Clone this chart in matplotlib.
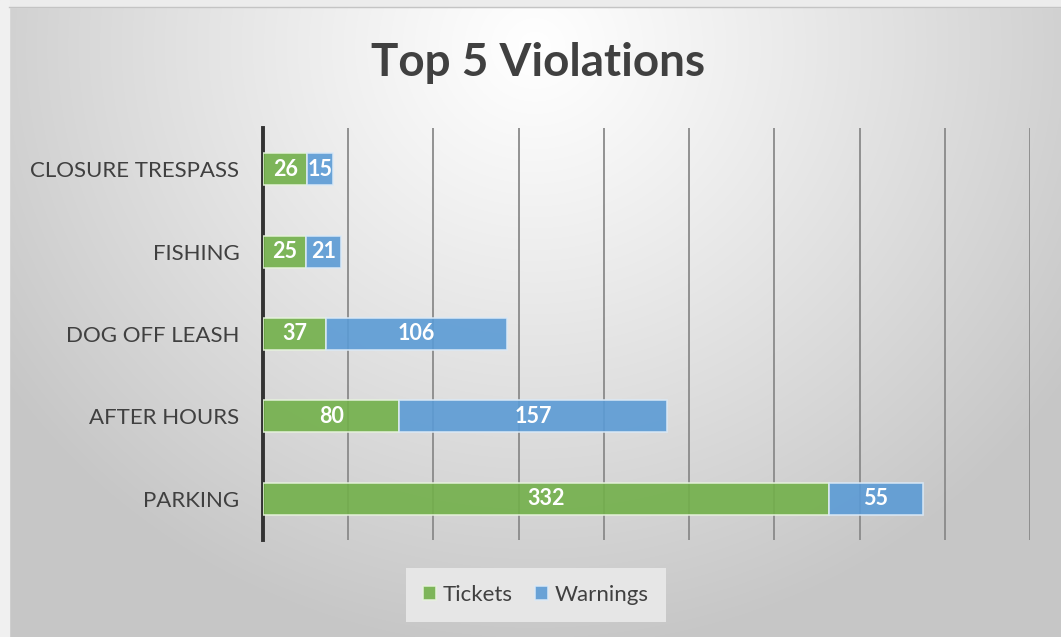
import numpy as np
import matplotlib
matplotlib.use("Agg")
import matplotlib.pyplot as plt
from matplotlib.patches import Rectangle

# data (bottom to top)
categories = ["PARKING", "AFTER HOURS", "DOG OFF LEASH", "FISHING", "CLOSURE TRESPASS"]
tickets = [332, 80, 37, 25, 26]
warnings = [55, 157, 106, 21, 15]

green = "#72b04a"
blue = "#5b9bd5"
txt = "#404040"

plt.rcParams['font.family'] = ['Lato', 'DejaVu Sans']

W, H = 1061, 637
fig = plt.figure(figsize=(W / 100, H / 100), dpi=100)
fig.patch.set_facecolor("#efefef")

# radial gradient panel background
bg = fig.add_axes([0, 0, 1, 1], zorder=-10)
bg.set_xlim(0, W)
bg.set_ylim(H, 0)
bg.axis('off')
yy, xx = np.mgrid[0:H, 0:W]
d = np.sqrt(((xx - 530) / 1.0) ** 2 + ((yy - 40) / 0.95) ** 2)
t = np.clip(d / 640, 0, 1) ** 1.1
val = 1.0 - t * (1.0 - 0.78)
img = np.dstack([val, val, val])
bg.imshow(img, extent=(9, W, H, 7), aspect='auto', zorder=0)
bg.add_patch(Rectangle((0, 0), W, 7, color="#ececec", zorder=1))
bg.add_patch(Rectangle((0, 0), 9, H, color="#f0f0f0", zorder=1))
bg.plot([9, W], [7, 7], color="#c4c4c4", lw=1, zorder=2)

ax = fig.add_axes([263 / W, 1 - 540 / H, (1030 - 263) / W, (540 - 128) / H])
ax.set_facecolor("none")

y = np.arange(len(categories))
h = 0.39
b1 = ax.barh(y, tickets, height=h, color=green, alpha=0.9,
             edgecolor="#e6f2dc", linewidth=1.2, label="Tickets", zorder=3)
b2 = ax.barh(y, warnings, left=tickets, height=h, color=blue, alpha=0.9,
             edgecolor="#dbe9f6", linewidth=1.2, label="Warnings", zorder=3)

for i in range(len(categories)):
    ax.text(tickets[i] / 2, y[i], str(tickets[i]), ha='center', va='center',
            color='white', fontsize=15.5, fontweight='bold', zorder=4)
    ax.text(tickets[i] + warnings[i] / 2, y[i], str(warnings[i]), ha='center',
            va='center', color='white', fontsize=15.5, fontweight='bold', zorder=4)

ax.set_xlim(0, 450)
ax.set_ylim(-0.5, 4.5)
ax.set_xticks(np.arange(50, 451, 50))
ax.set_xticklabels([])
ax.tick_params(axis='x', length=0)
ax.grid(axis='x', color="#8a8a8a", lw=1.3, zorder=0)
ax.set_yticks(y)
ax.set_yticklabels(categories, fontsize=16, color=txt)
ax.tick_params(axis='y', length=0, pad=17)
for s in ['top', 'right', 'bottom']:
    ax.spines[s].set_visible(False)
ax.spines['left'].set_color("#333333")
ax.spines['left'].set_linewidth(2.8)

fig.text(538 / W, 1 - 63 / H, "Top 5 Violations", ha='center', va='center',
         fontsize=33, fontweight='bold', color=txt)

leg = fig.legend(handles=[b1, b2], labels=["Tickets", "Warnings"], ncol=2,
                 loc='center', bbox_to_anchor=(536 / W, 1 - 595 / H),
                 fontsize=16, frameon=True, fancybox=False,
                 handlelength=0.6, handleheight=0.6, handletextpad=0.3,
                 columnspacing=1.0, borderpad=0.75)
leg.get_frame().set_facecolor("#e6e6e6")
leg.get_frame().set_edgecolor("none")
leg.get_frame().set_alpha(1)
for t_ in leg.get_texts():
    t_.set_color(txt)

fig.savefig("out.png", dpi=100)
